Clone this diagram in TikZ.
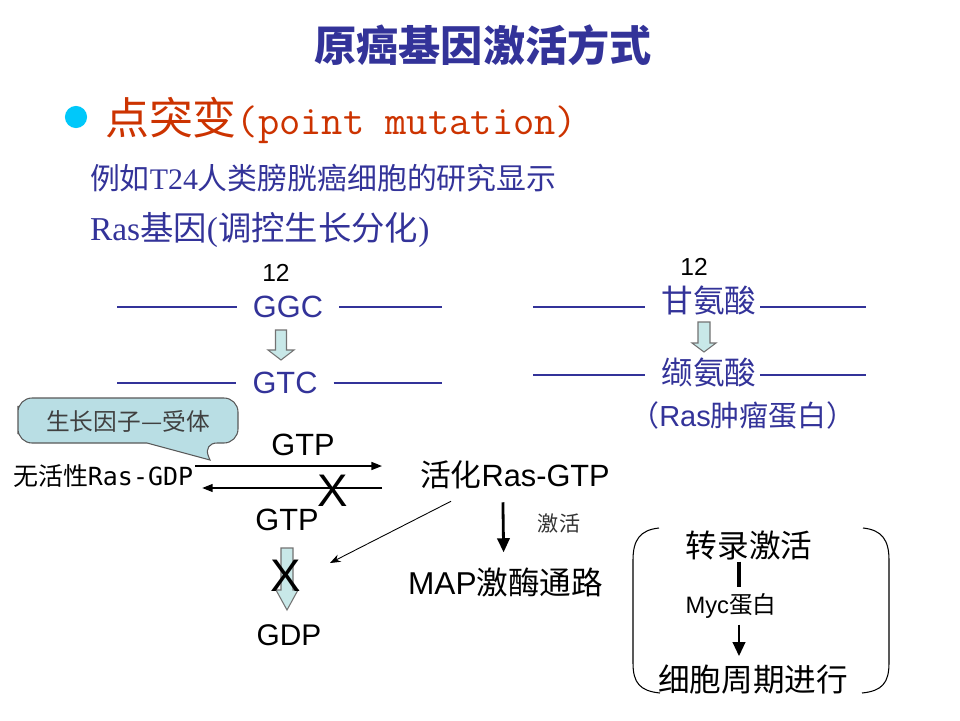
\documentclass[tikz,border=0pt]{standalone}
\usepackage{fontspec}
\setmainfont{Liberation Sans}
\newfontfamily\cjk{Noto Sans CJK SC}
\newfontfamily\serifrm{Liberation Serif}
\newfontfamily\monosf{DejaVu Sans Mono}
\usetikzlibrary{calc,arrows.meta}
\definecolor{navy}{RGB}{51,51,153}
\definecolor{rust}{RGB}{204,51,0}
\definecolor{dotcyan}{RGB}{0,200,250}
\definecolor{arrowfill}{RGB}{200,232,232}
\definecolor{calloutfill}{RGB}{185,222,228}
\newcommand{\fsz}[1]{\fontsize{#1}{#1}\selectfont}
\def\blockarrow(#1,#2)(#3)(#4)(#5)(#6){\draw[blockarr] (#1-#4,#2) -- (#1+#4,#2) -- (#1+#4,#2+#3-#6) -- (#1+#5,#2+#3-#6) -- (#1,#2+#3) -- (#1-#5,#2+#3-#6) -- (#1-#4,#2+#3-#6) -- cycle;}
\tikzset{
  txt/.style={inner sep=1pt},
  seqlab/.style={inner xsep=9pt, inner ysep=1pt, text=navy},
  strand/.style={draw=navy, line width=0.6pt},
  blockarr/.style={draw=black!55, fill=arrowfill, line width=0.6pt},
  thinarr/.style={-{Triangle[length=6pt,width=4.5pt]}, line width=0.9pt},
  slimarr/.style={-{Stealth[length=6pt,width=4.5pt]}, line width=0.5pt},
  thickarr/.style={-{Triangle[length=8pt,width=7pt]}, line width=1.6pt},
  bar/.style={line width=1.8pt},
}
\begin{document}
\begin{tikzpicture}[x=0.02cm,y=-0.02cm]
			%%%%% START %%%%%
			\useasboundingbox[fill=white] (0,0) rectangle (960,720);
			
			% heading
			\node[txt, text=navy] (title) at (483,45) {\cjk\bfseries\fsz{24pt}原癌基因激活方式};
			\fill[dotcyan] (76,117) circle (6.3pt);
			\node[txt, anchor=west, text=rust] (pm) at (103,120) {{\cjk\fsz{25pt}点突变}{\ttfamily\fsz{23.5pt}(point mutation)}};
			\node[txt, anchor=west, text=navy] (ex) at (88,178) {\fsz{17pt}{\cjk 例如}{\serifrm T24}{\cjk 人类膀胱癌细胞的研究显示}};
			\node[txt, anchor=west, text=navy] (ras) at (88,230) {\fsz{19pt}{\serifrm Ras}{\cjk 基因}{\serifrm (}{\cjk 调控生长分化}{\serifrm )}};
			
			% codon
			\node[txt] (n12a) at (276,273) {\fsz{14pt}12};
			\node[seqlab] (ggc) at (288,307) {\fsz{17.5pt}GGC};
			\node[seqlab] (gtc) at (285,383) {\fsz{17.5pt}GTC};
			\draw[strand] (117,307) -- (ggc.west);
			\draw[strand] (ggc.east) -- (442,307);
			\draw[strand] (117,383) -- (gtc.west);
			\draw[strand] (gtc.east) -- (442,383);
			\blockarrow(281,330)(30)(5.5)(13)(10)
			
			% amino acid
			\node[txt] (n12b) at (694,267) {\fsz{14pt}12};
			\node[txt, text=navy] (gly) at (709,300) {\cjk\fsz{18pt}甘氨酸};
			\node[txt, text=navy] (val) at (709,372) {\cjk\fsz{18pt}缬氨酸};
			\node[txt, text=navy] (onc) at (743,415) {\fsz{16.5pt}{\cjk （}Ras{\cjk 肿瘤蛋白）}};
			\draw[strand] (533,307) -- (645,307);
			\draw[strand] (760,307) -- (866,307);
			\draw[strand] (533,375) -- (645,375);
			\draw[strand] (760,375) -- (866,375);
			\blockarrow(704,322)(30)(6)(12)(9)
			
			% callout
			\draw[draw=black!65, fill=calloutfill, line width=0.6pt] (18,420) [rounded corners=8] |- (238,398) |- (203,443) [sharp corners] -- (210,460) -- (147,443) [rounded corners=8] -| cycle;
			\node[txt, text=black!75] (gf) at (128,421) {\cjk\fsz{13.5pt}生长因子—受体};
			
			% ras cycle
			\node[txt, anchor=west] (inact) at (11,476) {\fsz{14.2pt}{\cjk 无活性}{\monosf Ras-GDP}};
			\node[txt, anchor=west] (active) at (418,475) {\fsz{17.5pt}{\cjk 活化}Ras-GTP};
			\node[txt] (gtpa) at (303,445) {\fsz{17.5pt}GTP};
			\node[txt] (gtpb) at (287,520) {\fsz{17.5pt}GTP};
			\coordinate (fwd) at (382,466);
			\coordinate (bck) at (382,488);
			\draw[thinarr] ($(inact.east)+(0,-10)$) -- (fwd);
			\draw[thinarr] (bck) -- ($(inact.east)+(7,12)$);
			\node[txt] (xa) at (333,491) {\fsz{26pt}X};
			
			\blockarrow(287,548)(62)(6)(11)(20)
			\node[txt] (xb) at (286,576) {\fsz{26pt}X};
			\node[txt] (gdp) at (289,635) {\fsz{17pt}GDP};
			\coordinate (hyd) at (330,563);
			\draw[slimarr] ($(active.south west)+(33,10)$) -- (hyd);
			
			% MAP
			\node[txt, anchor=west] (map) at (406,582) {\fsz{18pt}MAP{\cjk 激酶通路}};
			\draw[thickarr] ($(active.south)+(-12,11)$) -- ($(map.north)+(-2,-13)$);
			\node[txt, text=black!80] (act) at (559,523) {\cjk\fsz{12pt}激活};
			
			% Myc
			\node[txt] (tx) at (749,545) {\cjk\fsz{18pt}转录激活};
			\node[txt] (myc) at (731,606) {\fsz{13.5pt}Myc{\cjk 蛋白}};
			\node[txt] (cyc) at (753,680) {\cjk\fsz{18pt}细胞周期进行};
			\draw[bar] ($(tx.south)+(-10,0)$) -- ($(myc.north)+(8,-4)$);
			\draw[thickarr] ($(myc.south)+(8,4)$) -- ($(cyc.north)+(-14,-7)$);
			\draw[line width=0.6pt] (659,528) .. controls (640,530) and (633,540) .. (633,560) -- (633,663) .. controls (633,683) and (640,691) .. (660,693);
			\draw[line width=0.6pt] (863,528) .. controls (882,530) and (889,540) .. (889,560) -- (889,663) .. controls (889,683) and (882,691) .. (862,693);
			
			%%%%% END %%%%%
\end{tikzpicture}
\end{document}
